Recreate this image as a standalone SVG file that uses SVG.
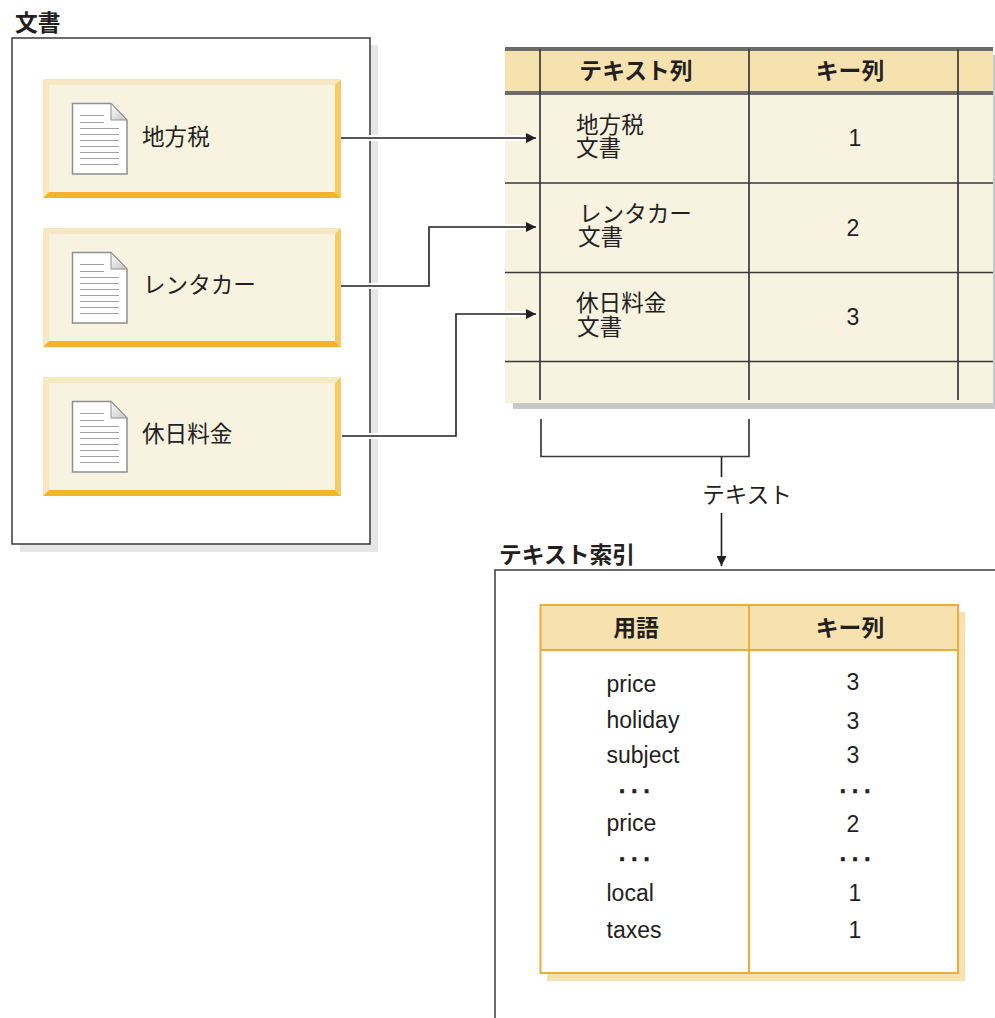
<svg xmlns="http://www.w3.org/2000/svg" width="995" height="1018" viewBox="0 0 995 1018">
<style>
text{font-family:"Liberation Sans","Noto Sans CJK JP",sans-serif;fill:#231f20}
.j{font-family:"Noto Sans CJK JP","Liberation Sans",sans-serif}
.b{font-weight:700}
.t{font-size:22.800px}
.n{font-size:22.600px}
.l{font-size:23px}
.d{font-size:22px;font-weight:700;stroke:#231f20;stroke-width:0.700}
.m{text-anchor:middle}
.ln{stroke:#3a3a3a;stroke-width:1.700;fill:none}
.or{stroke:#f5a83c;stroke-width:2;fill:none}
.halo{stroke:#fff;stroke-width:6;fill:none}
.con{stroke:#231f20;stroke-width:1.600;fill:none}
.rule{stroke:#a0a0a0;stroke-width:1}
</style>
<defs>
<marker id="ah" viewBox="0 0 10 10" refX="10" refY="5" markerWidth="10" markerHeight="10" markerUnits="userSpaceOnUse" orient="auto"><path d="M0 0L10 5L0 10Z" fill="#231f20"/></marker>
<linearGradient id="fold" x1="0" y1="0" x2="1" y2="1"><stop offset="0" stop-color="#fff"/><stop offset="1" stop-color="#c4c4c4"/></linearGradient>
<g id="doc">
<path d="M0.500 0.500H39L55 17V71H0.500Z" fill="#fff" stroke="#8f8f8f" stroke-width="1.500"/>
<path d="M39 0.500V17H55Z" fill="url(#fold)" stroke="#8f8f8f" stroke-width="1"/>
<path class="rule" d="M8 12.500H32M8 19.500H32M8 25.500H47M8 31.500H47M8 37.500H47M8 43.500H47M8 49.500H47M8 55.500H47M8 61.500H47"/>
</g>
<g id="card">
<rect width="298" height="119" fill="#f8f2e0"/>
<path d="M0 0H298L292 6H6V113L0 119Z" fill="#f6e8c3"/>
<path d="M298 0V119L292 113V6Z" fill="#f6cb62"/>
<path d="M0 119H298L292 113H6Z" fill="#f3b42a"/>
</g>
</defs>

<g id="documents">
<rect x="20" y="45" width="358" height="507" fill="#e6e6e6"/>
<rect x="12" y="38" width="358" height="506" fill="#fff" stroke="#3a3a3a" stroke-width="1.500"/>
<text x="15" y="31" class="j b t">文書</text>
</g>
<g id="node-local-tax"><use href="#card" x="43" y="79"/><use href="#doc" x="72" y="103"/><text x="142" y="145" class="j n">地方税</text></g>
<g id="node-rental-car"><use href="#card" x="43" y="228"/><use href="#doc" x="72" y="252"/><text x="143" y="293" class="j n">レンタカー</text></g>
<g id="node-holiday-fee"><use href="#card" x="43" y="377"/><use href="#doc" x="72" y="401"/><text x="142" y="442" class="j n">休日料金</text></g>

<g id="table">
<rect x="513" y="55" width="482" height="354" fill="#c8c8c8"/>
<rect x="505" y="47" width="488" height="356" fill="#f8f2e0"/>
<rect x="505" y="49" width="488" height="44" fill="#f6e2ae"/>
<rect x="505" y="47" width="488" height="4" fill="#6b6b6b"/>
<rect x="505" y="91" width="488" height="4" fill="#6b6b6b"/>
<path class="ln" d="M505 183H993M505 272.500H993M505 361.500H993M540 49V400M749 49V400M958 49V400"/>
<text x="636" y="79" class="j b t m">テキスト列</text>
<text x="850" y="79" class="j b t m">キー列</text>
<text class="j n"><tspan x="576" y="133">地方税</tspan><tspan x="576" y="156">文書</tspan></text>
<text class="j n"><tspan x="579" y="222">レンタカー</tspan><tspan x="578" y="245">文書</tspan></text>
<text class="j n"><tspan x="576" y="311">休日料金</tspan><tspan x="577" y="335">文書</tspan></text>
<text x="855" y="146" class="l m">1</text>
<text x="853" y="236" class="l m">2</text>
<text x="853" y="325" class="l m">3</text>
</g>

<g id="index">
<rect x="495" y="570" width="510" height="460" fill="#fff" stroke="#3a3a3a" stroke-width="1.500"/>
<text x="499" y="563" class="j b t">テキスト索引</text>
<rect x="547" y="612" width="418" height="369" fill="#f6e2ae"/>
<rect x="540" y="605" width="418" height="368" fill="#fff"/>
<rect x="540" y="605" width="418" height="45" fill="#f6e2ae"/>
<path class="or" d="M540.500 605H958V973H540.500ZM540 650H958M749 605V973"/>
<text x="636" y="636" class="j b t m">用語</text>
<text x="850" y="636" class="j b t m">キー列</text>
<text x="606.500" y="692" class="l">price</text>
<text x="606.500" y="728" class="l">holiday</text>
<text x="606.500" y="763" class="l">subject</text>
<text x="619" y="793" class="d">. . .</text>
<text x="606.500" y="831" class="l">price</text>
<text x="619" y="861" class="d">. . .</text>
<text x="606.500" y="901" class="l">local</text>
<text x="606.500" y="938" class="l">taxes</text>
<text x="853" y="690" class="l m">3</text>
<text x="853" y="729" class="l m">3</text>
<text x="853" y="763" class="l m">3</text>
<text x="855" y="793" class="d m">. . .</text>
<text x="853" y="832" class="l m">2</text>
<text x="855" y="861" class="d m">. . .</text>
<text x="855" y="901" class="l m">1</text>
<text x="855" y="938" class="l m">1</text>
</g>

<g id="connectors">
<path class="halo" d="M341 138H536M341 286H429V227H536M342 436H456V314H536"/>
<path class="con" marker-end="url(#ah)" d="M341 138H536"/>
<path class="con" marker-end="url(#ah)" d="M341 286H429V227H536"/>
<path class="con" marker-end="url(#ah)" d="M342 436H456V314H536"/>
<path class="ln" d="M541 419V456.500H749V419"/>
<path class="con" d="M721.500 457V477"/>
<path class="con" marker-end="url(#ah)" d="M721.500 513V566"/>
<text x="747" y="503" class="j n m">テキスト</text>
</g>
</svg>
